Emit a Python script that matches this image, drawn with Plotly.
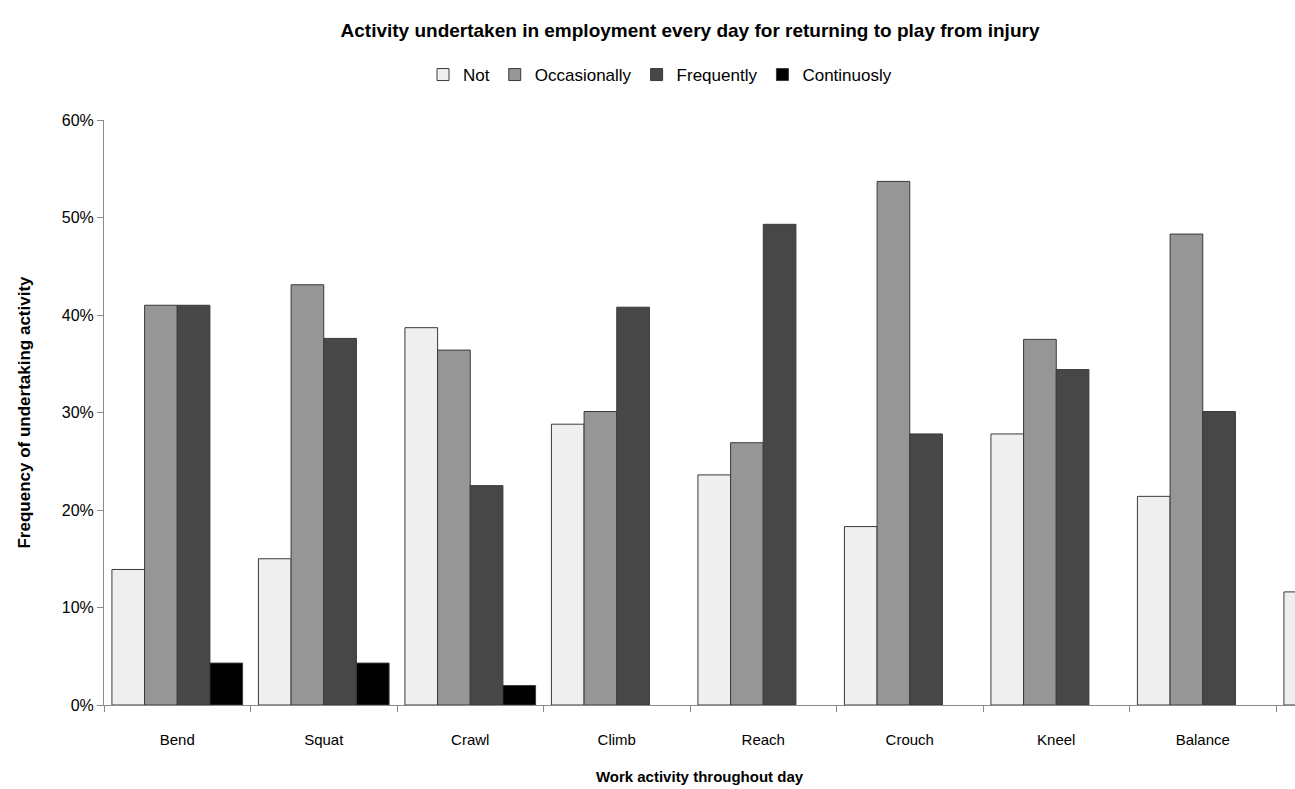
import plotly.graph_objects as go

categories = ["Bend", "Squat", "Crawl", "Climb", "Reach", "Crouch", "Kneel", "Balance", "Other"]
not_vals = [13.9, 15.0, 38.7, 28.8, 23.6, 18.3, 27.8, 21.4, 11.6]
occasionally = [41.0, 43.1, 36.4, 30.1, 26.9, 53.7, 37.5, 48.3, None]
frequently = [41.0, 37.6, 22.5, 40.8, 49.3, 27.8, 34.4, 30.1, None]
continuously = [4.3, 4.3, 2.0, None, None, None, None, None, None]

series_names = ["Not", "Occasionally", "Frequently", "Continuosly"]
series_values = [not_vals, occasionally, frequently, continuously]
series_colors = ["#efefef", "#969696", "#474747", "#000000"]
y_ticks = [0, 10, 20, 30, 40, 50, 60]

FONT = "Liberation Sans, Arial, sans-serif"

fig = go.Figure()
for name, vals, col in zip(series_names, series_values, series_colors):
    fig.add_trace(go.Bar(
        x=categories,
        y=[v / 100 if v is not None else None for v in vals],
        name=name,
        marker=dict(color=col, line=dict(color="#3a3a3a", width=1)),
    ))

fig.update_layout(
    width=1295, height=789,
    margin=dict(l=104, r=0, t=120, b=84),
    paper_bgcolor="white", plot_bgcolor="white",
    barmode="group", bargap=0.108, bargroupgap=0,
    font=dict(family=FONT, size=15, color="#000000"),
    title=dict(
        text="<b>Activity undertaken in employment every day for returning to play from injury</b>",
        x=690 / 1295, xref="container", xanchor="center",
        y=1 - 30 / 789, yref="container", yanchor="middle",
        font=dict(family=FONT, size=19, color="#000000"),
    ),
    legend=dict(
        orientation="h", x=(660 - 104) / 1191, xanchor="center",
        y=1 + (120 - 75) / 585, yanchor="middle",
        font=dict(family=FONT, size=17),
        itemwidth=30, traceorder="normal",
    ),
    showlegend=True,
)

fig.update_xaxes(
    type="category",
    range=[-0.5, 7.5 + 19 / 146.5],
    showline=True, linecolor="#8a8a8a", linewidth=1,
    ticks="outside", tickson="boundaries", ticklen=6, tickcolor="#8a8a8a",
    ticklabelstandoff=21,
    showgrid=False, zeroline=False,
    tickfont=dict(family=FONT, size=15),
    title=dict(text="<b>Work activity throughout day</b>", standoff=24,
               font=dict(family=FONT, size=15)),
)

fig.update_yaxes(
    range=[0, 0.6],
    tickvals=[t / 100 for t in y_ticks],
    ticktext=[f"{t}%" for t in y_ticks],
    showline=True, linecolor="#8a8a8a", linewidth=1,
    ticks="outside", ticklen=6, tickcolor="#8a8a8a",
    showgrid=False, zeroline=False,
    tickfont=dict(family=FONT, size=16),
    title=dict(text="<b>Frequency of undertaking activity</b>", standoff=26,
               font=dict(family=FONT, size=17)),
)

fig.write_html("out.html")
